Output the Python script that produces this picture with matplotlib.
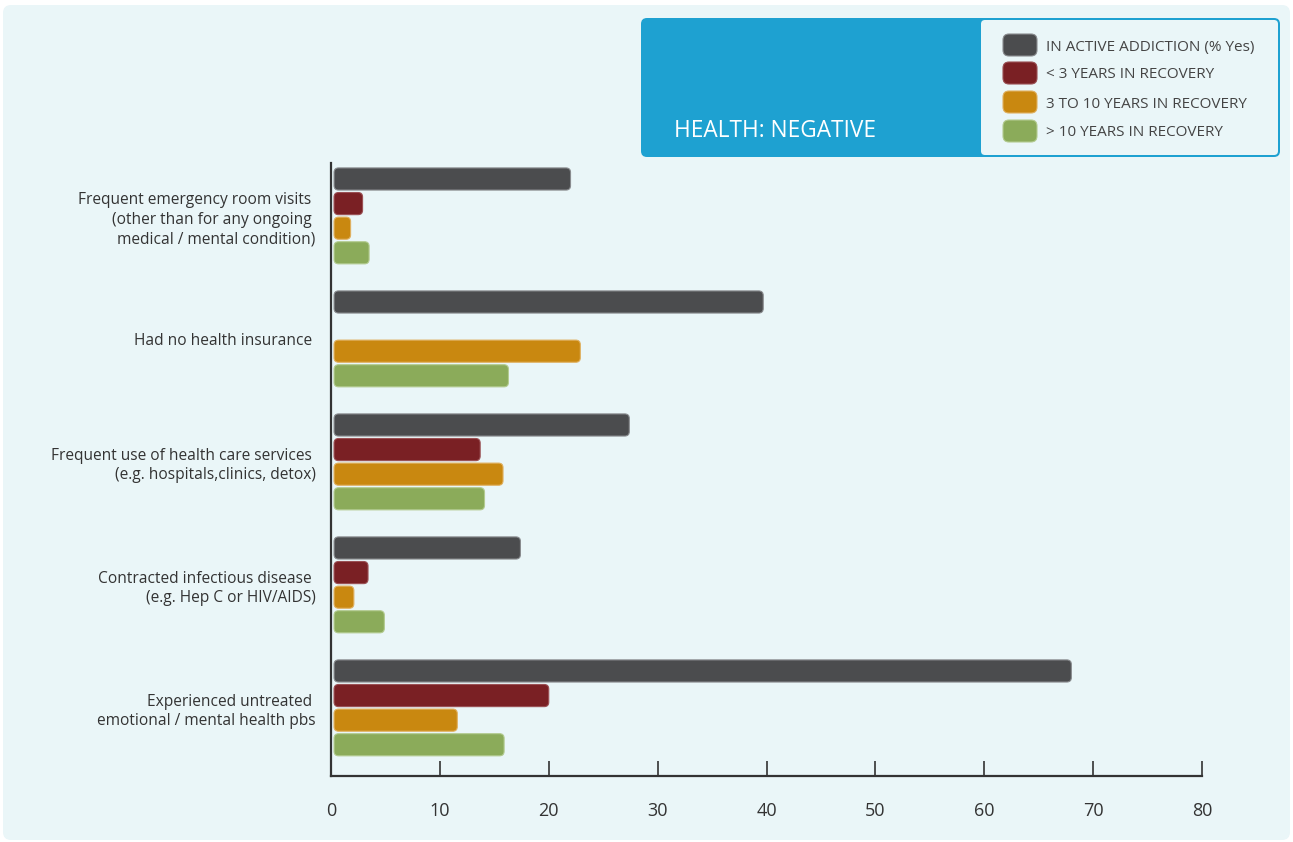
import numpy as np
import matplotlib
matplotlib.use("Agg")
import matplotlib.pyplot as plt
from matplotlib.patches import FancyBboxPatch

# ---------------- data ----------------
categories = [
    "Frequent emergency room visits \n(other than for any ongoing \nmedical / mental condition)",
    "Had no health insurance ",
    "Frequent use of health care services \n(e.g. hospitals,clinics, detox)",
    "Contracted infectious disease \n(e.g. Hep C or HIV/AIDS)",
    "Experienced untreated \nemotional / mental health pbs",
]
series_names = [
    "IN ACTIVE ADDICTION (% Yes)",
    "< 3 YEARS IN RECOVERY",
    "3 TO 10 YEARS IN RECOVERY",
    "> 10 YEARS IN RECOVERY",
]
active_addiction = [22.0, 39.7, 27.4, 17.4, 68.0]
under_3_years = [2.9, np.nan, 13.7, 3.4, 20.0]
three_to_10_years = [1.8, 22.9, 15.8, 2.1, 11.6]
over_10_years = [3.5, 16.3, 14.1, 4.9, 15.9]
x_ticks = [0, 10, 20, 30, 40, 50, 60, 70, 80]
title = "HEALTH: NEGATIVE"

series = [active_addiction, under_3_years, three_to_10_years, over_10_years]
colors = ["#4b4c4e", "#7a2024", "#c98810", "#8bab5a"]
edge_colors = ["#8a8c8f", "#9a5054", "#e0b060", "#b3cb90"]

FONT = "Open Sans"
TEXT = "#333333"

W, H = 1293, 842
fig = plt.figure(figsize=(W / 100, H / 100), dpi=100)
fig.patch.set_facecolor("white")

# ---------- background axes in pixel coordinates ----------
bg = fig.add_axes([0, 0, 1, 1], zorder=0)
bg.set_xlim(0, W)
bg.set_ylim(H, 0)
bg.axis("off")
bg.add_patch(FancyBboxPatch((3, 5), 1287, 835, boxstyle="round,pad=0,rounding_size=8",
                            facecolor="#eaf6f8", edgecolor="none"))

# legend / header block
blue = "#1ea1d1"
bg.add_patch(FancyBboxPatch((641, 18), 639, 139, boxstyle="round,pad=0,rounding_size=6",
                            facecolor=blue, edgecolor="none"))
bg.add_patch(FancyBboxPatch((981, 20), 297, 135, boxstyle="round,pad=0,rounding_size=4",
                            facecolor="#eaf6f8", edgecolor="none"))
bg.text(674, 131, title, color="white", fontsize=16.3, family=FONT,
        ha="left", va="center")
leg_y = [45, 73, 102, 131]
for name, c, ec, yy in zip(series_names, colors, edge_colors, leg_y):
    bg.add_patch(FancyBboxPatch((1003, yy - 11), 34, 22,
                                boxstyle="round,pad=0,rounding_size=6",
                                facecolor=c, edgecolor=ec, linewidth=0.8))
    bg.text(1046, yy + 2, name, color="#444444", fontsize=11, family=FONT,
            ha="left", va="center")

# ---------------- main axes ----------------
ax = fig.add_axes([331 / W, 1 - 776 / H, 871 / W, 613 / H], zorder=1)
ax.patch.set_alpha(0)
ax.set_xlim(0, 80)
ax.set_ylim(24.27, -0.65)

n_series = len(series)
group_step = 5
bar_h = 0.9
x0 = 0.28
x_per_px = 80 / 871
y_per_px = 24.92 / 613
rad_px = 4.5
aspect = y_per_px / x_per_px

for s_idx, (vals, c, ec) in enumerate(zip(series, colors, edge_colors)):
    for g, v in enumerate(vals):
        if v is None or np.isnan(v):
            continue
        yc = g * group_step + s_idx
        p = FancyBboxPatch((x0, yc - bar_h / 2), v - x0, bar_h,
                           boxstyle=f"round,pad=0,rounding_size={rad_px * x_per_px}",
                           mutation_aspect=aspect,
                           facecolor=c, edgecolor=ec, linewidth=0.8)
        ax.add_patch(p)

centers = [g * group_step + (n_series - 1) / 2 for g in range(len(categories))]
ax.set_yticks(centers)
ax.set_yticklabels(categories, fontsize=11.2, family=FONT, color=TEXT,
                   linespacing=1.3, ha="right", multialignment="right")
ax.tick_params(axis="y", length=0, pad=11)

ax.set_xticks(x_ticks)
ax.set_xticklabels([str(t) for t in x_ticks], fontsize=13, family=FONT, color=TEXT)
ax.tick_params(axis="x", direction="in", length=11, width=1.2, color="#333333", pad=19)

for side in ["top", "right"]:
    ax.spines[side].set_visible(False)
for side in ["left", "bottom"]:
    ax.spines[side].set_color("#333333")
    ax.spines[side].set_linewidth(1.6)

fig.savefig("out.png", dpi=100, facecolor="white")
